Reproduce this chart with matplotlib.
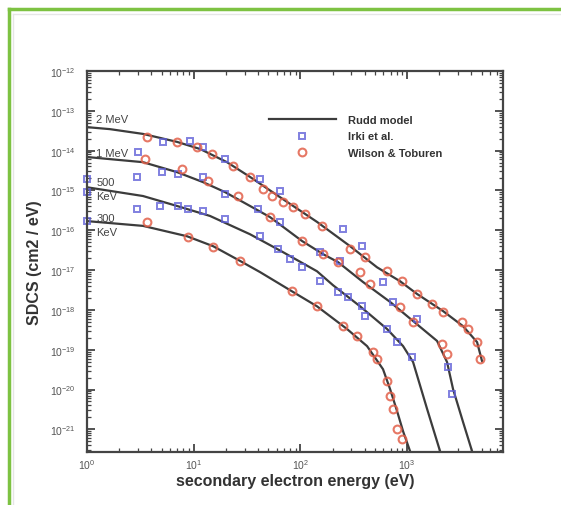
import numpy as np
import matplotlib
matplotlib.use("Agg")
import matplotlib.pyplot as plt
from matplotlib.lines import Line2D

plt.rcParams['font.family'] = ['Liberation Sans', 'DejaVu Sans']

# ---------------- data (energies in eV, SDCS as log10 exponent) ----------------
rudd_2mev_E = [1, 1.64, 3.35, 6.98, 11.5, 20.5, 33.7, 68.7, 143, 292, 522, 858, 1238, 2170, 3342, 4519, 5035]
rudd_2mev_exp = [-13.41, -13.46, -13.58, -13.78, -13.96, -14.29, -14.66, -15.22, -15.79, -16.40, -16.93, -17.28, -17.60, -18.03, -18.41, -18.81, -19.29]

rudd_1mev_E = [1, 3.35, 6.98, 12.2, 19.6, 33.7, 51.9, 103.5, 163, 225, 386, 692, 1136, 1906, 2364, 2692, 3342, 4057, 4326]
rudd_1mev_exp = [-14.16, -14.29, -14.54, -14.79, -15.04, -15.39, -15.67, -16.27, -16.60, -16.80, -17.30, -17.80, -18.28, -18.78, -19.31, -19.99, -20.82, -21.55, -21.80]

rudd_500kev_E = [1, 3.35, 6.98, 14.2, 33.7, 68.7, 143, 202, 362, 648, 916, 1136, 1538, 2034, 2170]
rudd_500kev_exp = [-14.92, -15.14, -15.39, -15.64, -16.10, -16.55, -17.03, -17.38, -17.91, -18.48, -18.91, -19.31, -20.49, -21.55, -21.80]

rudd_300kev_E = [1, 3.35, 8.65, 15.2, 27.2, 41.8, 85.3, 143, 273, 421, 594, 692, 804, 916, 1065, 1112]
rudd_300kev_exp = [-15.77, -15.89, -16.15, -16.40, -16.77, -17.05, -17.55, -17.91, -18.48, -18.91, -19.49, -19.99, -20.54, -21.05, -21.55, -21.80]

# Wilson & Toburen (red circles)
wilson_E = [3.65, 6.98, 10.7, 14.8, 23.4, 33.7, 44.6, 54.2, 68.7, 85.3, 110, 159, 292, 403, 648, 896, 1238, 1711, 2170, 3270, 3722, 4519, 4822,
            3.50, 7.77, 13.6, 26.0, 51.9, 103.5, 163, 225, 362, 449, 858, 1136, 2125, 2364,
            3.65, 8.85, 15.2, 27.2, 83.4, 143, 251, 339, 479, 522, 648, 692, 738, 804, 896]
wilson_exp = [-13.66, -13.78, -13.91, -14.09, -14.39, -14.66, -14.96, -15.14, -15.29, -15.42, -15.59, -15.89, -16.47, -16.67, -17.03, -17.28, -17.60, -17.85, -18.06, -18.31, -18.48, -18.81, -19.24,
              -14.21, -14.46, -14.76, -15.14, -15.67, -16.27, -16.60, -16.80, -17.05, -17.35, -17.93, -18.31, -18.86, -19.11,
              -15.79, -16.17, -16.42, -16.77, -17.53, -17.90, -18.41, -18.66, -19.06, -19.24, -19.79, -20.17, -20.49, -21.00, -21.25]

# Irki et al. (blue squares)
irki_E = [5.15, 9.23, 12.2, 19.6, 41.8, 64.4, 251, 378,
          3.01, 5.05, 7.13, 12.2, 19.6, 40.1, 64.4, 153, 235, 594, 738, 1238, 2418, 2637,
          1.0, 1.0, 2.94, 2.94, 4.83, 7.13, 8.85, 12.2, 19.6, 41.8, 61.7, 79.9, 103.5, 153, 225, 279, 378, 403, 648, 804, 1112,
          1.0]
irki_exp = [-13.78, -13.76, -13.91, -14.21, -14.71, -15.02, -15.97, -16.40,
            -14.04, -14.54, -14.59, -14.66, -15.09, -15.47, -15.79, -16.55, -16.77, -17.30, -17.80, -18.23, -19.44, -20.12,
            -15.04, -14.71, -14.66, -15.47, -15.39, -15.39, -15.47, -15.52, -15.72, -16.15, -16.47, -16.72, -16.92, -17.28, -17.55, -17.68, -17.90, -18.16, -18.48, -18.81, -19.19,
            -15.77]

energy_labels = ["2 MeV", "1 MeV", "500", "KeV", "300", "KeV"]
label_pos_exp = [-13.2, -14.05, -14.8, -15.15, -15.7, -16.05]

# ---------------- figure ----------------
fig = plt.figure(figsize=(5.61, 5.06), dpi=100)
ax = fig.add_axes([0.155, 0.1047, 0.742, 0.753])

line_col = '#3c3c3c'
for E, ex in [(rudd_2mev_E, rudd_2mev_exp), (rudd_1mev_E, rudd_1mev_exp),
              (rudd_500kev_E, rudd_500kev_exp), (rudd_300kev_E, rudd_300kev_exp)]:
    ax.plot(E, 10.0 ** np.array(ex), color=line_col, lw=1.6, solid_capstyle='round',
            solid_joinstyle='round')

blue = '#6060d8'
red = '#e2604a'
ax.plot(irki_E, 10.0 ** np.array(irki_exp), ls='none', marker='s', ms=4.3, mfc='none',
        mec=blue, mew=1.4, alpha=0.8, clip_on=False)
ax.plot(wilson_E, 10.0 ** np.array(wilson_exp), ls='none', marker='o', ms=5.6, mfc='none',
        mec=red, mew=1.5, alpha=0.85, clip_on=False)

ax.set_xscale('log')
ax.set_yscale('log')
ax.set_xlim(1, 10 ** 3.9)
ax.set_ylim(10 ** -21.57, 1e-12)

ax.set_yticks([10.0 ** k for k in range(-21, -11)])
ax.set_xticks([1, 10, 100, 1000])
ax.yaxis.set_minor_locator(matplotlib.ticker.LogLocator(base=10, subs=np.arange(2, 10), numticks=20))
ax.xaxis.set_minor_locator(matplotlib.ticker.LogLocator(base=10, subs=np.arange(2, 10), numticks=20))
ax.yaxis.set_minor_formatter(matplotlib.ticker.NullFormatter())
ax.xaxis.set_minor_formatter(matplotlib.ticker.NullFormatter())

ax.tick_params(which='both', direction='in', top=True, right=True, colors='#444444',
               labelcolor='#555555', labelsize=7.5)
ax.tick_params(which='major', length=6, width=1.3)
ax.tick_params(which='minor', length=3, width=0.9)
ax.tick_params(axis='y', pad=8)
ax.tick_params(axis='x', pad=4)
for sp in ax.spines.values():
    sp.set_linewidth(1.6)
    sp.set_color('#444444')

ax.set_xlabel('secondary electron energy (eV)', fontsize=11.5, fontweight='bold', color='#333333', labelpad=1)
ax.set_ylabel('SDCS (cm2 / eV)', fontsize=11.5, fontweight='bold', color='#333333', labelpad=6)

for lab, ye in zip(energy_labels, label_pos_exp):
    ax.text(1.22, 10.0 ** ye, lab, fontsize=8, color='#444444', ha='left', va='center')

# legend
handles = [Line2D([], [], color=line_col, lw=1.6),
           Line2D([], [], ls='none', marker='s', ms=4.3, mfc='none', mec=blue, mew=1.4, alpha=0.8),
           Line2D([], [], ls='none', marker='o', ms=5.6, mfc='none', mec=red, mew=1.5, alpha=0.85)]
leg = ax.legend(handles, ['Rudd model', 'Irki et al.', 'Wilson & Toburen'], loc='upper left',
                bbox_to_anchor=(0.413, 0.91), frameon=False, handlelength=6.0, handletextpad=1.1,
                labelspacing=0.55, prop={'weight': 'bold', 'size': 8})
for t in leg.get_texts():
    t.set_color('#333333')

# green page frame
fig.add_artist(Line2D([0.016, 1.0], [0.980, 0.980], transform=fig.transFigure, color='#7dc242', lw=2.5))
fig.add_artist(Line2D([0.016, 0.016], [0.0, 0.980], transform=fig.transFigure, color='#7dc242', lw=2.5))
fig.add_artist(Line2D([0.024, 1.0], [0.970, 0.970], transform=fig.transFigure, color='#e6e6e6', lw=1))
fig.add_artist(Line2D([0.024, 0.024], [0.0, 0.970], transform=fig.transFigure, color='#e6e6e6', lw=1))

fig.savefig('out.png', dpi=100)
